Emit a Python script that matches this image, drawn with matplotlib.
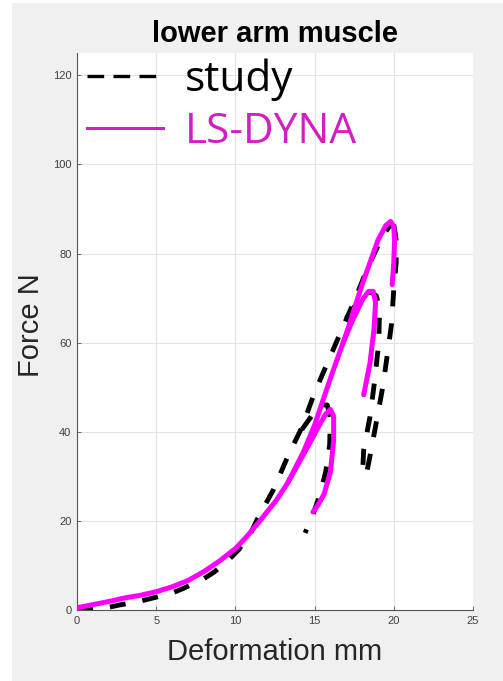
import matplotlib
matplotlib.use("Agg")
import matplotlib.pyplot as plt
from matplotlib.patches import Rectangle
from matplotlib.lines import Line2D

# ---- data ----
study_load_x = [0, 1, 2, 2.65, 4, 4.8, 6, 6.75, 8, 8.65, 9.5, 10.2, 11, 11.4, 12.4, 13.3, 14.2, 15.0, 16.0, 16.8, 17.55, 18.3, 19.25, 19.7, 20.0]
study_load_y = [0, 0.2, 0.6, 1.1, 2.0, 2.7, 3.8, 4.9, 7.0, 8.5, 11, 13.5, 17.5, 20.5, 27, 34.4, 41, 48.8, 57, 63.6, 69.7, 76.4, 83.6, 86, 86.5]
study_unload3_x = [20.0, 20.15, 20.15, 20.0, 19.85, 19.6, 19.3, 18.9, 18.5, 18.3]
study_unload3_y = [86.5, 83, 78, 72, 64, 57.5, 50, 42.2, 34.6, 31]
study_c1_x = [14.2, 15.0, 15.5, 15.8, 16.0, 15.95, 15.7, 15.3, 14.9, 14.4]
study_c1_y = [40.5, 44.5, 46.0, 46.0, 43, 37, 31, 25.5, 21.5, 17.3]
study_c2_x = [17.0, 17.8, 18.5, 18.9, 19.1, 19.05, 18.8, 18.5, 18.1, 18.0]
study_c2_y = [65.5, 69.5, 71.5, 70.5, 67.5, 60, 51.7, 43.4, 36, 28.8]

dyna_load_x = [0, 1, 2, 3, 4, 5, 6, 7, 8, 9, 10, 10.7, 11.5, 12.6, 13.3, 14.3, 15, 16, 16.6, 17, 17.5, 18, 18.5, 19, 19.5, 19.8, 20.0, 20.05, 20.0, 19.9]
dyna_load_y = [0.5, 1.2, 1.9, 2.7, 3.3, 4.1, 5.2, 6.6, 8.6, 11, 13.8, 16.4, 19.8, 24.7, 28.5, 35.5, 41.5, 52, 58, 62, 67.5, 73, 78, 83, 86.3, 87.2, 86, 83, 78, 73]
dyna_c1_x = [13.3, 14.0, 14.7, 15.3, 15.7, 16.0, 16.2, 16.2, 16.0, 15.6, 15.2, 14.9]
dyna_c1_y = [28.5, 33, 37.5, 41.5, 44, 45, 43.5, 38, 31, 26, 23.5, 22]
dyna_c2_x = [16.8, 17.4, 18.0, 18.4, 18.7, 18.85, 18.75, 18.5, 18.1]
dyna_c2_y = [60, 65, 69.5, 71.5, 71.5, 69, 63, 55.5, 48.3]

x_ticks = [0, 5, 10, 15, 20, 25]
y_ticks = [0, 20, 40, 60, 80, 100, 120]

W, H = 503, 681
fig = plt.figure(figsize=(W / 100, H / 100), dpi=100, facecolor="white")
fig.patches.append(Rectangle((12 / W, 0), 1 - 12 / W, 1 - 3 / H, transform=fig.transFigure,
                             facecolor="#f0f0f0", edgecolor="none", zorder=-10))

ax = fig.add_axes([77 / W, 1 - 610 / H, 396 / W, 557 / H])
ax.set_facecolor("white")

dash = (0, (3.3, 3.5))
mag = "#ff00ff"
for xs, ys in [(study_load_x, study_load_y), (study_unload3_x, study_unload3_y),
               (study_c1_x, study_c1_y), (study_c2_x, study_c2_y)]:
    ax.plot(xs, ys, color="black", lw=3.5, linestyle=dash, zorder=2)
for xs, ys in [(dyna_load_x, dyna_load_y), (dyna_c1_x, dyna_c1_y), (dyna_c2_x, dyna_c2_y)]:
    ax.plot(xs, ys, color=mag, lw=3.6, solid_capstyle="round", solid_joinstyle="round", zorder=3)

ax.set_xlim(0, 25)
ax.set_ylim(0, 125)
ax.set_xticks(x_ticks)
ax.set_yticks(y_ticks)
ax.grid(True, color="#e3e3e3", lw=0.8)
ax.set_axisbelow(True)
for s in ["top", "right"]:
    ax.spines[s].set_visible(False)
for s in ["left", "bottom"]:
    ax.spines[s].set_color("#555555")
    ax.spines[s].set_linewidth(0.8)
ax.tick_params(direction="in", length=3, width=0.6, color="#555555", labelsize=8,
               labelcolor="#404040", pad=4)
for lab in ax.get_xticklabels() + ax.get_yticklabels():
    lab.set_family("Liberation Sans")

ax.set_xlabel("Deformation mm", fontsize=21, family="Liberation Sans", color="#262626")
ax.xaxis.set_label_coords(0.5, (610 - 660) / 557)
ax.xaxis.label.set_va("baseline")
ax.set_ylabel("Force N", fontsize=21, family="Liberation Sans", color="#262626")
ax.yaxis.set_label_coords((31 - 77) / 396, (610 - 325) / 557)
ax.yaxis.label.set_va("center")

fig.text(275 / W, 1 - 42 / H, "lower arm muscle", fontsize=21, fontweight="bold",
         family="Liberation Sans", ha="center", va="baseline", color="black")

leg_col = "#d21ec3"
handles = [Line2D([], [], color="black", lw=2.4, linestyle=(0, (5.0, 2.8))),
           Line2D([], [], color=leg_col, lw=2.2)]
leg = ax.legend(handles, ["study", "LS-DYNA"], loc="upper left", bbox_to_anchor=(10 / 396, 0.99),
                frameon=False, prop={"family": "Open Sans", "size": 30.5},
                handlelength=1.8, handletextpad=0.5, borderpad=0, borderaxespad=0,
                labelspacing=0.24)
leg.get_texts()[1].set_color(leg_col)

fig.savefig("out.png", dpi=100, facecolor="white")
